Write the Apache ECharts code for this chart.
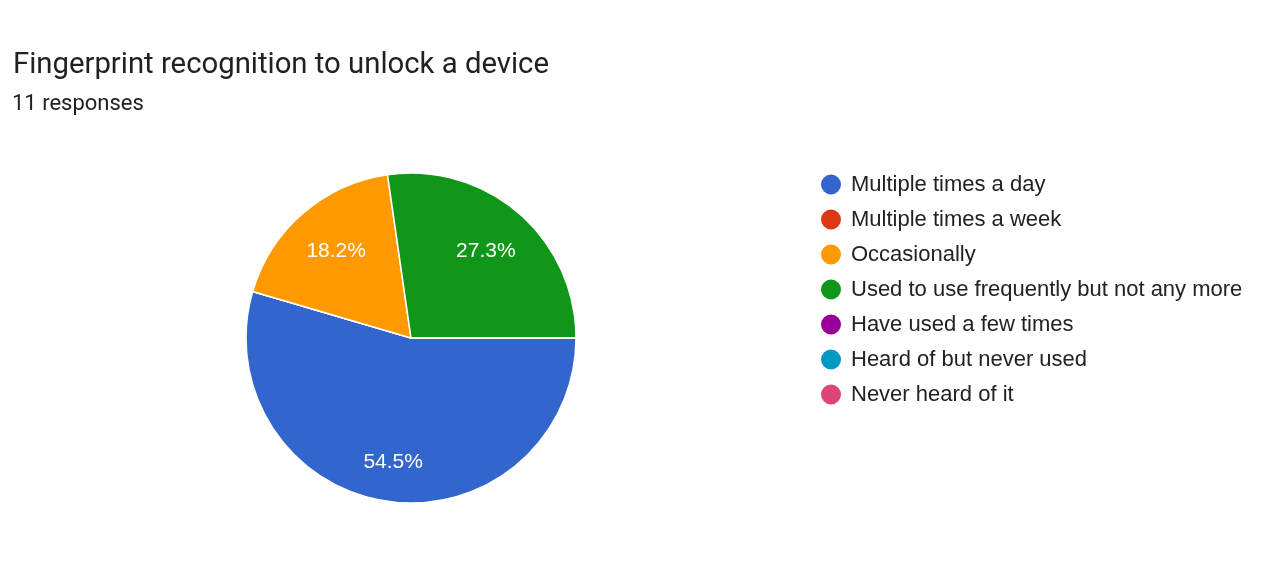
<!DOCTYPE html>
<html>
<head>
<meta charset="utf-8">
<script src="https://cdn.jsdelivr.net/npm/echarts@6/dist/echarts.min.js"></script>
<style>
html,body{margin:0;padding:0;background:#fff;}
#chart{width:1280px;height:566px;}
</style>
</head>
<body>
<div id="chart"></div>
<script>
const titleText = 'Fingerprint recognition to unlock a device';
const subtitleText = '11 responses';
const categories = [
  'Multiple times a day',
  'Multiple times a week',
  'Occasionally',
  'Used to use frequently but not any more',
  'Have used a few times',
  'Heard of but never used',
  'Never heard of it'
];
const counts = [6, 0, 2, 3, 0, 0, 0];
const colors = ['#3366cc', '#dc3912', '#ff9900', '#109618', '#990099', '#0099c6', '#dd4477'];

const total = counts.reduce((a, b) => a + b, 0);
const pieCenter = [411, 338];
const pieRadius = 165;
// labels are pushed outward until the outer corner of their box touches this radius
const labelReach = pieRadius * 0.864;
const chart = echarts.init(document.getElementById('chart'));
chart.setOption({
  animation: false,
  color: colors,
  title: [
    { text: titleText, left: 8, top: 46, textStyle: { fontFamily: 'Roboto', fontSize: 29.3, fontWeight: 'normal', color: '#202124' } },
    { text: subtitleText, left: 7, top: 88.5, textStyle: { fontFamily: 'Roboto', fontSize: 22, fontWeight: 'normal', color: '#202124' } }
  ],
  legend: {
    orient: 'vertical',
    left: 814,
    top: 167.5,
    icon: 'circle',
    itemWidth: 22,
    itemHeight: 22,
    itemGap: 11,
    textStyle: { fontFamily: 'Liberation Sans, Arial', fontSize: 22, color: '#222', padding: [0, 0, 0, 4] },
    data: categories
  },
  series: [{
    type: 'pie',
    center: pieCenter,
    radius: pieRadius,
    startAngle: 0,
    clockwise: true,
    avoidLabelOverlap: false,
    itemStyle: { borderColor: '#fff', borderWidth: 1.5 },
    label: {
      show: true,
      position: 'inside',
      color: '#fff',
      fontFamily: 'Liberation Sans, Arial',
      fontSize: 21,
      formatter: p => p.value ? (p.value / total * 100).toFixed(1) + '%' : ''
    },
    labelLayout: function (params) {
      const r = params.labelRect;
      const cx = r.x + r.width / 2 - pieCenter[0];
      const cy = r.y + r.height / 2 - pieCenter[1];
      const len = Math.hypot(cx, cy) || 1;
      const ux = cx / len, uy = cy / len;
      const hw = r.width / 2, hh = r.height / 2;
      const b = Math.abs(ux) * hw + Math.abs(uy) * hh;
      const d = -b + Math.sqrt(b * b - hw * hw - hh * hh + labelReach * labelReach);
      return {
        x: pieCenter[0] + ux * d,
        y: pieCenter[1] + uy * d
      };
    },
    labelLine: { show: false },
    emphasis: { disabled: true },
    data: categories.map((c, i) => ({ name: c, value: counts[i] }))
  }]
});
</script>
</body>
</html>
